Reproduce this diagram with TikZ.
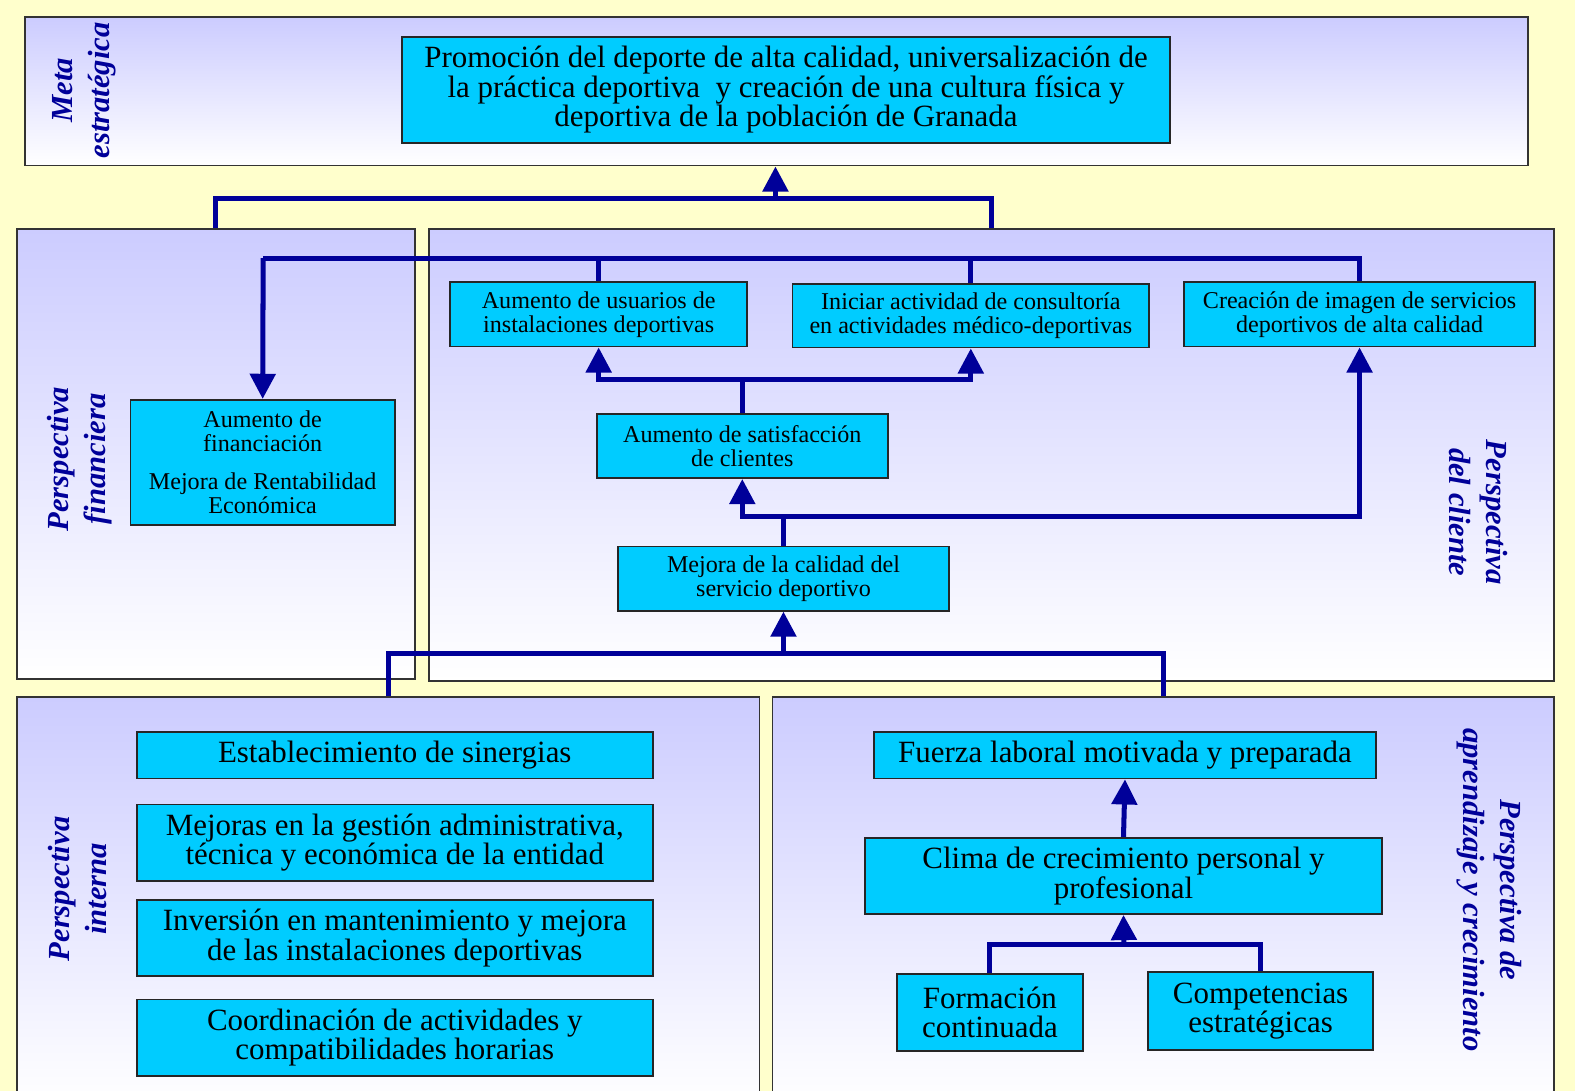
\documentclass[tikz,border=0pt]{standalone}
\usepackage{fontspec}
\setmainfont{Liberation Serif}
\usetikzlibrary{arrows.meta,calc}
\definecolor{bgy}{HTML}{FFFFCC}
\definecolor{ptop}{HTML}{CCCCFF}
\definecolor{boxc}{HTML}{00CCFF}
\definecolor{navy}{HTML}{000099}
\definecolor{pborder}{HTML}{333333}
\tikzset{
  panel/.style={draw=pborder, line width=1.5pt, top color=ptop, bottom color=white, inner sep=0pt},
  box/.style={draw=black!85, line width=1.8pt, fill=boxc, inner sep=0pt, align=center, text=black},
  smallt/.style={font=\fontsize{24}{24}\selectfont},
  bigt/.style={font=\fontsize{30.8}{29.5}\selectfont},
  topt/.style={font=\fontsize{30.8}{29.5}\selectfont},
  lbl/.style={text=navy, align=center, font=\fontsize{30.5}{37}\selectfont\bfseries\itshape},
  conn/.style={draw=navy, line width=5pt},
  arrow/.style={conn, -{Triangle[width=25pt,length=25pt]}}
}
\begin{document}
\begin{tikzpicture}[x=1pt,y=-1pt]
\useasboundingbox (0,0) rectangle (1568,1086);
\fill[bgy] (0,0) rectangle (1568,1086);
\clip (0,0) rectangle (1568,1086);

% panels
\node[panel, minimum width=1496pt, minimum height=148pt] (metaP) at (773,91) {};
\node[panel, minimum width=396pt, minimum height=448pt] (finP) at (215,452) {};
\node[panel, minimum width=1120pt, minimum height=450pt] (cliP) at (987,453) {};
\node[panel, minimum width=739pt, minimum height=406pt] (intP) at (386.5,897) {};
\node[panel, minimum width=778pt, minimum height=406pt] (aprP) at (1158,897) {};

% boxes
\node[box, topt, minimum width=765pt, minimum height=105pt] (top) at (782.5,89.5)
  {Promoción del deporte de alta calidad, universalización de\\la práctica deportiva\ \ y creación de una cultura física y\\deportiva de la población de Granada};
\node[box, smallt, minimum width=263pt, minimum height=125pt] (fin) at (261.5,460.5)
  {Aumento de\\financiación\\[14pt]Mejora de Rentabilidad\\Económica};
\node[box, smallt, minimum width=296pt, minimum height=64pt] (usu) at (596,313)
  {Aumento de usuarios de\\instalaciones deportivas};
\node[box, smallt, minimum width=355pt, minimum height=63pt] (cons) at (966.5,314.5)
  {Iniciar actividad de consultoría\\en actividades médico-deportivas};
\node[box, smallt, minimum width=349pt, minimum height=64pt] (img) at (1353.5,313)
  {Creación de imagen de servicios\\deportivos de alta calidad};
\node[box, smallt, minimum width=290pt, minimum height=64pt] (sat) at (739,444)
  {Aumento de satisfacción\\de clientes};
\node[box, smallt, minimum width=330pt, minimum height=64pt] (cal) at (780,576)
  {Mejora de la calidad del\\servicio deportivo};

\node[box, bigt, minimum width=514pt, minimum height=46pt] (est) at (393,752)
  {Establecimiento de sinergias};
\node[box, bigt, minimum width=514pt, minimum height=76pt] (mej) at (393,839)
  {Mejoras en la gestión administrativa,\\técnica y económica de la entidad};
\node[box, bigt, minimum width=514pt, minimum height=76pt] (inv) at (393,934)
  {Inversión en mantenimiento y mejora\\de las instalaciones deportivas};
\node[box, bigt, minimum width=514pt, minimum height=76pt] (coo) at (393,1033)
  {Coordinación de actividades y\\compatibilidades horarias};

\node[box, bigt, minimum width=500pt, minimum height=46pt] (fue) at (1120,752)
  {Fuerza laboral motivada y preparada};
\node[box, bigt, minimum width=515pt, minimum height=76pt] (cli) at (1118.5,872)
  {Clima de crecimiento personal y\\profesional};
\node[box, bigt, minimum width=185pt, minimum height=76pt] (for) at (985.5,1008)
  {Formación\\continuada};
\node[box, bigt, minimum width=224pt, minimum height=77pt] (com) at (1255,1006.5)
  {Competencias\\estratégicas};

% junction coordinates
\coordinate (jt) at (772,197.5);
\coordinate (h1) at (262,257);
\coordinate (h2) at (739,378);
\coordinate (h3) at (780,514);
\coordinate (jb) at (780,651);
\coordinate (h4) at (1119,940);

% connectors
\draw[conn] (finP.north) -- (finP.north |- jt) -- (cliP.north |- jt) -- (cliP.north);
\draw[arrow] (jt) -- (jt |- metaP.south);

\draw[conn] (h1) -- (h1 -| img.north) -- (img.north);
\draw[conn] (usu.north |- h1) -- (usu.north);
\draw[conn] (cons.north |- h1) -- (cons.north);
\draw[arrow] (h1) -- (fin.north);

\draw[conn] (sat.north) -- (h2);
\draw[arrow] (h2) -- (usu.south |- h2) -- (usu.south);
\draw[arrow] (h2) -- (cons.south |- h2) -- (cons.south);

\draw[conn] (cal.north) -- (h3);
\draw[arrow] (h3) -- (sat.south |- h3) -- (sat.south);
\draw[arrow] (h3) -- (img.south |- h3) -- (img.south);

\draw[conn] (intP.north) -- (intP.north |- jb) -- (aprP.north |- jb) -- (aprP.north);
\draw[arrow] (jb) -- (cal.south);

\draw[arrow] (cli.north) -- (fue.south);
\draw[conn] (for.north) -- (for.north |- h4) -- (com.north |- h4) -- (com.north);
\draw[arrow] (h4) -- (cli.south);

% labels
\node[lbl, rotate=90] (lmeta) at (84,90) {Meta\\estratégica};
\node[lbl, rotate=90] (lfin) at (79,457) {Perspectiva\\financiera};
\node[lbl, rotate=90] (lint) at (77,885) {Perspectiva\\interna};
\node[lbl, rotate=-90] (lcli) at (1472,510) {Perspectiva\\del cliente};
\node[lbl, rotate=-90] (lapr) at (1483,886) {Perspectiva de\\aprendizaje y crecimiento};
\end{tikzpicture}
\end{document}
